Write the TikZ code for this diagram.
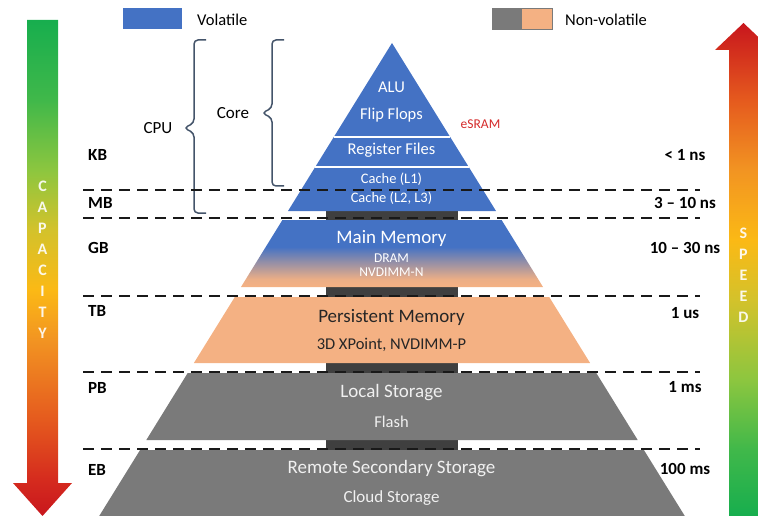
\documentclass[tikz,border=0pt]{standalone}
\usepackage{fontspec}
\setmainfont{Carlito}
\definecolor{volblue}{HTML}{4472C4}
\definecolor{nvpeach}{HTML}{F4B183}
\definecolor{nvgrey}{HTML}{7A7A7A}
\definecolor{stemgrey}{HTML}{3F3F3F}
\definecolor{bracegrey}{HTML}{44546A}
\definecolor{sramred}{HTML}{D42A2A}
\definecolor{rampred}{HTML}{C8161D}
\definecolor{rampcrimson}{HTML}{D52B1E}
\definecolor{rampvermilion}{HTML}{E55A1E}
\definecolor{ramporange}{HTML}{F29422}
\definecolor{rampamber}{HTML}{FBB915}
\definecolor{rampmustard}{HTML}{D3C22B}
\definecolor{ramplime}{HTML}{8CC63F}
\definecolor{ramplightgreen}{HTML}{40B84A}
\definecolor{rampgreen}{HTML}{17AE4E}
\pgfdeclareverticalshading{capacityshade}{100bp}{color(0bp)=(rampred); color(25bp)=(rampred);
  color(28.65bp)=(rampcrimson); color(34.7bp)=(rampvermilion); color(42.75bp)=(ramporange);
  color(47.8bp)=(rampamber); color(53.85bp)=(rampmustard); color(59.9bp)=(ramplime);
  color(66.95bp)=(ramplightgreen); color(75bp)=(rampgreen); color(100bp)=(rampgreen)}
\pgfdeclareverticalshading{speedshade}{100bp}{color(0bp)=(rampgreen); color(25bp)=(rampgreen);
  color(31.7bp)=(ramplightgreen); color(38.8bp)=(ramplime); color(46.9bp)=(rampmustard);
  color(53bp)=(rampamber); color(60.1bp)=(ramporange); color(67.2bp)=(rampvermilion);
  color(75bp)=(rampred); color(100bp)=(rampred)}
\pgfdeclareverticalshading{dramshade}{100bp}{color(0bp)=(nvpeach); color(25bp)=(nvpeach);
  color(31bp)=(nvpeach!95!volblue); color(45bp)=(nvpeach!40!volblue); color(55bp)=(volblue);
  color(100bp)=(volblue)}
\begin{document}
\begin{tikzpicture}[x=1pt,y=-1pt,every node/.style={inner sep=0pt},
  tier/.style={text=white,font=\fontsize{16.5}{19}\selectfont},
  tierbig/.style={font=\fontsize{19}{22}\selectfont},
  tiersmall/.style={font=\fontsize{13.5}{16}\selectfont},
  tiercache/.style={font=\fontsize{14.5}{17}\selectfont},
  legendtext/.style={anchor=west,font=\fontsize{16.5}{19}\selectfont},
  sizelabel/.style={anchor=west,font=\fontsize{17}{20}\selectfont\bfseries},
  timelabel/.style={font=\fontsize{17}{20}\selectfont\bfseries},
  sepline/.style={dash pattern=on 11pt off 7pt,line width=2pt,black!90},
  bracepath/.style={draw=bracegrey,line width=1.5pt,rounded corners=4pt},
  letter/.style={text=white,text opacity=0.9,font=\fontsize{16}{19}\selectfont\bfseries}]
\useasboundingbox (0,0) rectangle (758,516);

\fill[volblue] (123,8) rectangle (182,29);
\node[legendtext] (vollabel) at (197,20) {Volatile};
\fill[nvgrey] (492,8) rectangle (522,29);
\fill[nvpeach] (522,8) rectangle (552,29);
\draw[nvgrey,line width=0.6pt] (492,8) rectangle (552,29);
\node[legendtext] (nvlabel) at (565,20) {Non-volatile};

\shade[shading=capacityshade] (27,20) -- (58,20) -- (58,483) -- (72,483) -- (42.5,516) -- (13,483) -- (27,483) -- cycle;
\shade[shading=speedshade] (729,516) -- (729,50) -- (715,50) -- (743.5,23) -- (772,50) -- (758,50) -- (758,516) -- cycle;
\foreach \ch [count=\i] in {C,A,P,A,C,I,T,Y}
  \node[letter] (cap\i) at (42.5,{186+21*(\i-1)}) {\ch};
\foreach \ch [count=\i] in {S,P,E,E,D}
  \node[letter] (spd\i) at (743.5,{233+21.2*(\i-1)}) {\ch};

\fill[stemgrey] (326,205) rectangle (458,455);
\fill[volblue] (392,43) -- (496,211) -- (288,211) -- cycle;
\draw[white,line width=2.5pt] (333.8,137) -- (450.2,137);
\draw[white,line width=2.5pt] (315.2,167) -- (468.8,167);
\shade[shading=dramshade] (282.4,220) -- (501.6,220) -- (543,287) -- (241,287) -- cycle;
\fill[nvpeach] (234.8,297) -- (549.2,297) -- (590.1,363) -- (193.9,363) -- cycle;
\fill[nvgrey] (187.7,373) -- (596.3,373) -- (637.7,440) -- (146.3,440) -- cycle;
\fill[nvgrey] (140.1,450) -- (643.9,450) -- (684.8,516) -- (99.2,516) -- cycle;

\node[tier] (alu) at (391.5,87) {ALU};
\node[tier] (flipflops) at (391.5,115) {Flip Flops};
\node[tier] (regfiles) at (391.5,150) {Register Files};
\node[tier,tiercache] (cacheone) at (391.5,179) {Cache (L1)};
\node[tier,tiercache] (cachetwo) at (391.5,198) {Cache (L2, L3)};
\node[tier,tierbig] (mainmem) at (391.5,238) {Main Memory};
\node[tier,tiersmall] (dram) at (391.5,258) {DRAM};
\node[tier,tiersmall] (nvdimmn) at (391.5,272) {NVDIMM-N};
\node[tier,tierbig,text=black!85] (pmem) at (391.5,317) {Persistent Memory};
\node[tier,text=black!85] (xpoint) at (391.5,345) {3D XPoint, NVDIMM-P};
\node[tier,tierbig,text=white!94!black] (localstore) at (391.5,393) {Local Storage};
\node[tier,text=white!94!black] (flash) at (391.5,422) {Flash};
\node[tier,tierbig,text=white!94!black] (remotestore) at (391.5,469) {Remote Secondary Storage};
\node[tier,text=white!94!black,font=\fontsize{17}{20}\selectfont] (cloud) at (391.5,498) {Cloud Storage};
\node[text=sramred,font=\fontsize{13.5}{16}\selectfont] (esram) at (480.5,124) {eSRAM};

\draw[bracepath] (206,40) -- (194,40) -- (194,123) -- (184,128) -- (194,133) -- (194,213) -- (206,213);
\draw[bracepath] (284,40) -- (272,40) -- (272,108) -- (262,113) -- (272,118) -- (272,186) -- (284,186);
\node[font=\fontsize{17}{20}\selectfont] (cpu) at (158,128) {CPU};
\node[font=\fontsize{17}{20}\selectfont] (core) at (233,113) {Core};

\foreach \y in {190,218,296,372,449}
  \draw[sepline] (83,\y) -- (700,\y);

\node[sizelabel] (kb) at (88,155) {KB};
\node[sizelabel] (mb) at (88,203) {MB};
\node[sizelabel] (gb) at (88,248) {GB};
\node[sizelabel] (tb) at (88,311) {TB};
\node[sizelabel] (pb) at (88,388) {PB};
\node[sizelabel] (eb) at (88,470) {EB};

\node[timelabel] (tkb) at (685,155) {< 1 ns};
\node[timelabel] (tmb) at (685,203) {3 -- 10 ns};
\node[timelabel] (tgb) at (685,248) {10 -- 30 ns};
\node[timelabel] (ttb) at (685,313) {1 us};
\node[timelabel] (tpb) at (685,387) {1 ms};
\node[timelabel] (teb) at (685,469) {100 ms};
\end{tikzpicture}
\end{document}
